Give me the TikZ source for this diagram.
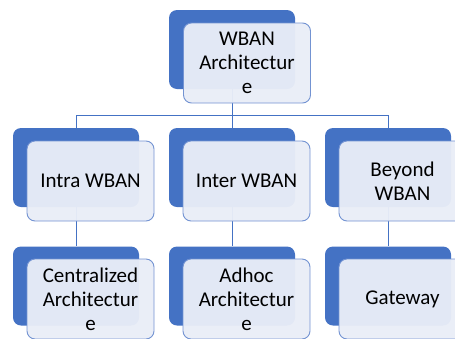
\documentclass[tikz,border=0pt]{standalone}
\usepackage{fontspec}
\setmainfont{Carlito}
\usepackage{tikz}
\usetikzlibrary{positioning}

\definecolor{wbblue}{HTML}{4472C4}
\definecolor{wbpale}{HTML}{E9EDF7}
\definecolor{wbedge}{HTML}{7393D2}

\begin{document}
\begin{tikzpicture}[x=1pt,y=-1pt]
\useasboundingbox (0,0) rectangle (455,338);
\clip (0,0) rectangle (455,338);
\begin{scope}[every node/.style={rounded corners=8pt,fill=wbblue,inner sep=0pt,
                                  minimum width=126pt,minimum height=79pt}]
  \node (rootB) at (232,49.5) {};
    \node (intraB) at (76,167.5) {};
    \node (interB) at (232,167.5) {};
    \node (beyondB) at (388,167.5) {};
    \node (centB) at (76,286) {};
    \node (adhocB) at (232,286) {};
    \node (gateB) at (388,286) {};
\end{scope}

\begin{scope}[every path/.style={draw=wbblue,line width=1pt}]
    \coordinate (bus) at (232,115);
    \path (rootB.south) -- (bus);
    \path (bus -| intraB.north) -- (bus -| beyondB.north);
    \foreach \n in {intraB,interB,beyondB}
      \path (bus -| \n.north) -- (\n.north);
    \path (intraB.south) -- (centB.north);
    \path (interB.south) -- (adhocB.north);
    \path (beyondB.south) -- (gateB.north);
\end{scope}

\begin{scope}[every node/.style={rounded corners=8pt,draw=wbedge,line width=0.9pt,
                                  fill=wbpale,fill opacity=0.96,text opacity=1,
                                  minimum width=127pt,minimum height=80pt,inner sep=0pt,
                                  align=center,font=\fontsize{21}{24}\selectfont}]
  \node (root) at (247,63) {WBAN\\Architectur\\e};
    \node (intra) at (90.5,181) {Intra WBAN};
    \node (inter) at (246.5,181) {Inter WBAN};
    \node (beyond) at (402.5,181) {Beyond\\WBAN};
    \node (cent) at (90.5,299) {Centralized\\Architectur\\e};
    \node (adhoc) at (246.5,299) {Adhoc\\Architectur\\e};
    \node (gate) at (402.5,299) {Gateway};
\end{scope}
\end{tikzpicture}
\end{document}
